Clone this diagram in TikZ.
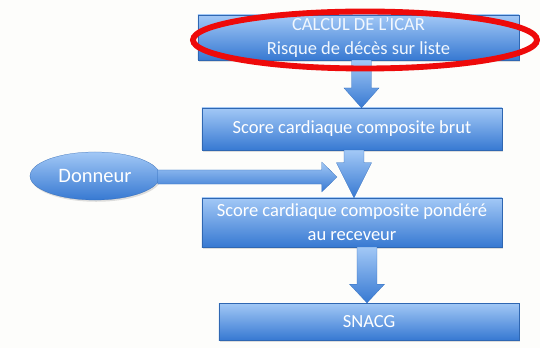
\documentclass[tikz,border=0pt]{standalone}
\usepackage{fontspec}
\setmainfont{Carlito}
\usetikzlibrary{positioning,calc,shapes.geometric,shadows}

\definecolor{bleuclair}{HTML}{A2C8F6}
\definecolor{bleufonce}{HTML}{3779D2}
\definecolor{fond}{HTML}{FDFDFB}
\definecolor{rouge}{HTML}{EE0A0A}

\tikzset{
  etape/.style={rectangle, top color=bleuclair, bottom color=bleufonce, draw=bleufonce!85!black, very thin,
    text=white, align=center, font=\fontsize{15.8}{20.5}\selectfont, inner sep=0pt,
    drop shadow={opacity=0.25, shadow xshift=1pt, shadow yshift=-1.5pt}},
  fleche/.style={top color=bleuclair, bottom color=bleufonce, draw=bleufonce!90!black, very thin},
}

% fleche verticale : source, cible, decalage x, longueur de la pointe
\newcommand{\flecheV}[4]{%
  \path[fleche] let \p1=($(#1.south)+(#3,0)$), \p2=(#2.north) in
    (\x1-8.5pt,\y1) -- (\x1-8.5pt,\y2+#4) -- (\x1-15pt,\y2+#4) -- (\x1,\y2)
    -- (\x1+15pt,\y2+#4) -- (\x1+8.5pt,\y2+#4) -- (\x1+8.5pt,\y1) -- cycle;
}

\begin{document}
\begin{tikzpicture}[x=0.03cm, y=-0.03cm]
\fill[fond] (0,0) rectangle (540,348);
\useasboundingbox (0,0) rectangle (540,348);

\node[etape, minimum width=9.63cm, minimum height=1.35cm] (icar) at (358.5,37.5)
  {\textcolor{white!85!bleuclair}{CALCUL DE L’ICAR}\\\textcolor{white!85!bleuclair}{Risque de décès sur liste}};
\node[etape, minimum width=9cm, minimum height=1.26cm] (brut) at (352,129) {Score cardiaque composite brut};
\node[etape, minimum width=9cm, minimum height=1.47cm] (pond) at (352,222.5) {Score cardiaque composite pondéré\\au receveur};
\node[etape, minimum width=9cm, minimum height=1.11cm] (snacg) at (369,321.5) {SNACG};
\node[ellipse, top color=bleuclair, bottom color=bleufonce, draw=bleufonce!85!black, very thin,
  text=white, font=\fontsize{17.5}{20}\selectfont, inner sep=0pt, minimum width=3.9cm, minimum height=1.44cm,
  drop shadow={opacity=0.25, shadow xshift=1pt, shadow yshift=-1.5pt}] (don) at (95,176) {Donneur};

% fleches
\flecheV{icar}{brut}{3}{17pt}
\flecheV{brut}{pond}{2}{30pt}
\flecheV{pond}{snacg}{15}{16pt}

\coordinate (pointe) at (337,177);
\path[fleche] let \p1=(don.east), \p2=(pointe) in
  (\x1-2pt,\y2+6pt) -- (\x2-13pt,\y2+6pt) -- (\x2-13pt,\y2+12.75pt) -- (\x2,\y2)
  -- (\x2-13pt,\y2-12.75pt) -- (\x2-13pt,\y2-6pt) -- (\x1-2pt,\y2-6pt) -- cycle;

% mise en evidence
\draw[rouge, line width=5pt] (365,40) ellipse [x radius=172, y radius=28.5];
\end{tikzpicture}
\end{document}
